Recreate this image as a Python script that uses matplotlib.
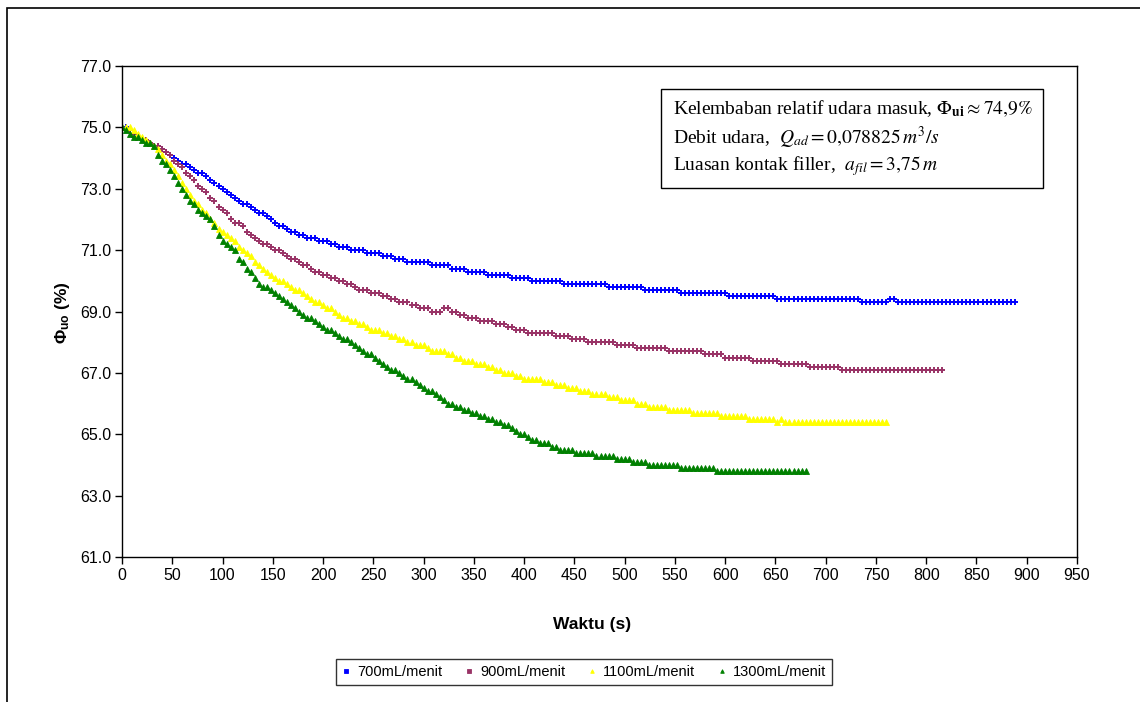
import numpy as np
import matplotlib
matplotlib.use("Agg")
import matplotlib.pyplot as plt
from matplotlib.patches import Rectangle
from matplotlib.lines import Line2D

plt.rcParams['font.family'] = ['Liberation Sans', 'DejaVu Sans']
plt.rcParams['mathtext.fontset'] = 'custom'
plt.rcParams['mathtext.rm'] = 'Liberation Sans'
plt.rcParams['mathtext.bf'] = 'Liberation Sans:bold'
plt.rcParams['mathtext.it'] = 'Liberation Sans:italic'

# ---------------- data (sampled every 4 s; levels with run lengths) ----------------
sample_step = 4  # s

s700_levels = [75.0, 74.9, 74.7, 74.6, 74.5, 74.4, 74.3, 74.2, 74.1, 74.0, 73.9, 73.8, 73.7, 73.6,
               73.5, 73.4, 73.3, 73.2, 73.1, 73.0, 72.9, 72.8, 72.7, 72.6, 72.5, 72.4, 72.3, 72.2,
               72.1, 72.0, 71.9, 71.8, 71.7, 71.6, 71.5, 71.4, 71.3, 71.2, 71.1, 71.0, 70.9, 70.8,
               70.7, 70.6, 70.5, 70.4, 70.3, 70.2, 70.1, 70.0, 69.9, 69.8, 69.7, 69.6, 69.5, 69.4,
               69.3, 69.4, 69.3]
s700_counts = [2, 1, 2, 2, 1, 2, 1, 1, 1, 1, 1, 2, 1, 1,
               2, 1, 1, 1, 1, 1, 1, 1, 1, 1, 2, 1, 1, 2,
               1, 1, 1, 2, 1, 2, 2, 3, 3, 2, 3, 4, 4, 3,
               3, 6, 5, 4, 5, 6, 5, 8, 11, 9, 9, 12, 12, 21,
               7, 2, 30]

s900_levels = [74.9, 74.8, 74.7, 74.6, 74.5, 74.4, 74.3, 74.2, 74.1, 73.9, 73.8, 73.7, 73.5, 73.4,
               73.3, 73.1, 73.0, 72.9, 72.7, 72.6, 72.4, 72.3, 72.2, 72.0, 71.9, 71.8, 71.6, 71.5,
               71.4, 71.3, 71.2, 71.1, 71.0, 70.9, 70.8, 70.7, 70.6, 70.5, 70.4, 70.3, 70.2, 70.1,
               70.0, 69.9, 69.8, 69.7, 69.6, 69.5, 69.4, 69.3, 69.2, 69.1, 69.0, 69.1, 69.0, 68.9,
               68.8, 68.7, 68.6, 68.5, 68.4, 68.3, 68.2, 68.1, 68.0, 67.9, 67.8, 67.7, 67.6, 67.5,
               67.4, 67.3, 67.2, 67.1]
s900_counts = [3, 1, 1, 2, 1, 2, 1, 1, 1, 1, 1, 1, 1, 1,
               1, 1, 1, 1, 1, 1, 1, 1, 1, 1, 2, 1, 1, 1,
               1, 1, 2, 1, 2, 1, 1, 2, 1, 2, 1, 2, 2, 2,
               2, 2, 1, 3, 3, 2, 2, 3, 2, 3, 3, 2, 2, 2,
               3, 4, 3, 2, 3, 7, 4, 4, 7, 5, 8, 9, 5, 7,
               7, 7, 8, 26]

s1100_levels = [75.0, 74.9, 74.8, 74.7, 74.6, 74.5, 74.4, 74.3, 74.1, 73.9, 73.8, 73.6, 73.4, 73.2,
                73.0, 72.8, 72.6, 72.5, 72.3, 72.2, 72.0, 71.9, 71.7, 71.6, 71.5, 71.4, 71.3, 71.1,
                71.0, 70.9, 70.8, 70.6, 70.5, 70.4, 70.3, 70.2, 70.1, 70.0, 69.9, 69.8, 69.7, 69.6,
                69.5, 69.4, 69.3, 69.2, 69.1, 69.0, 68.9, 68.8, 68.7, 68.6, 68.5, 68.4, 68.3, 68.2,
                68.1, 68.0, 67.9, 67.8, 67.7, 67.6, 67.5, 67.4, 67.3, 67.2, 67.1, 67.0, 66.9, 66.8,
                66.7, 66.6, 66.5, 66.4, 66.3, 66.2, 66.1, 66.0, 65.9, 65.8, 65.7, 65.6, 65.5, 65.4,
                65.5, 65.4]
s1100_counts = [3, 1, 1, 1, 1, 1, 1, 1, 1, 1, 1, 1, 1, 1,
                1, 1, 1, 1, 1, 1, 1, 1, 1, 1, 1, 1, 1, 1,
                1, 1, 1, 1, 1, 1, 1, 1, 1, 2, 1, 1, 2, 1,
                1, 1, 2, 1, 2, 1, 1, 2, 2, 2, 1, 3, 2, 2,
                2, 2, 3, 1, 4, 2, 2, 3, 3, 2, 2, 3, 2, 5,
                3, 3, 3, 3, 4, 3, 4, 3, 5, 6, 7, 7, 7, 1,
                1, 26]

s1300_levels = [75.0, 74.9, 74.8, 74.7, 74.6, 74.5, 74.4, 74.1, 73.9, 73.8, 73.6, 73.4, 73.2, 73.0,
                72.8, 72.6, 72.5, 72.3, 72.2, 72.1, 72.0, 71.8, 71.5, 71.3, 71.2, 71.1, 71.0, 70.7,
                70.6, 70.4, 70.3, 70.1, 69.9, 69.8, 69.7, 69.6, 69.5, 69.4, 69.3, 69.2, 69.1, 69.0,
                68.9, 68.8, 68.7, 68.6, 68.5, 68.4, 68.3, 68.2, 68.1, 68.0, 67.9, 67.8, 67.7, 67.6,
                67.5, 67.4, 67.3, 67.2, 67.1, 67.0, 66.9, 66.8, 66.7, 66.6, 66.5, 66.4, 66.3, 66.2,
                66.1, 66.0, 65.9, 65.8, 65.7, 65.6, 65.5, 65.4, 65.3, 65.2, 65.1, 65.0, 64.9, 64.8,
                64.7, 64.6, 64.5, 64.4, 64.3, 64.2, 64.1, 64.0, 63.9, 63.8]
s1300_counts = [1, 1, 1, 2, 1, 2, 1, 1, 1, 1, 1, 1, 1, 1,
                1, 1, 1, 1, 1, 1, 1, 1, 1, 1, 1, 1, 1, 1,
                1, 1, 1, 1, 1, 2, 1, 1, 1, 1, 1, 1, 1, 1,
                1, 2, 1, 1, 1, 2, 1, 1, 2, 1, 1, 1, 1, 2,
                1, 1, 1, 1, 2, 1, 1, 2, 1, 1, 1, 2, 1, 1,
                1, 2, 2, 2, 2, 2, 2, 2, 2, 1, 1, 2, 1, 2,
                3, 2, 4, 5, 5, 4, 4, 8, 9, 23]

series_labels = ['700mL/menit', '900mL/menit', '1100mL/menit', '1300mL/menit']
series_colors = ['#0000FF', '#993366', '#FFFF00', '#008000']
series_markers = ['+', '+', '^', '^']
legend_markers = ['s', 's', '^', '^']

x_ticks = list(range(0, 951, 50))
y_ticks = [61.0, 63.0, 65.0, 67.0, 69.0, 71.0, 73.0, 75.0, 77.0]

# ---------------- figure ----------------
W, H = 1140, 702
fig = plt.figure(figsize=(W / 100, H / 100), dpi=100)
fig.patch.set_facecolor('white')

def fx(px):
    return px / W

def fy(py):
    return 1 - py / H

# outer chart border
fig.patches.append(Rectangle((fx(7), fy(760)), fx(1200), fy(8) - fy(760),
                             transform=fig.transFigure, fill=False,
                             edgecolor='black', linewidth=1.2, clip_on=False))

ax = fig.add_axes([fx(122), fy(557), fx(1077) - fx(122), fy(66) - fy(557)])

all_series = [(s700_levels, s700_counts), (s900_levels, s900_counts),
              (s1100_levels, s1100_counts), (s1300_levels, s1300_counts)]

for (lv, ct), lab, col, mk in zip(all_series, series_labels, series_colors, series_markers):
    vals = np.repeat(lv, ct)
    t = np.arange(len(vals)) * sample_step
    if mk == '+':
        ax.plot(t, vals, linestyle='none', marker=mk, markersize=4.5, markeredgewidth=1.4,
                color=col, label=lab)
    else:
        ax.plot(t, vals, linestyle='none', marker=mk, markersize=3.8, markeredgewidth=0.6,
                color=col, markeredgecolor=col, label=lab)

ax.set_xlim(0, 950)
ax.set_ylim(61, 77)
ax.set_xticks(x_ticks)
ax.set_yticks(y_ticks)
ax.set_yticklabels([f'{v:.1f}' for v in y_ticks])
ax.tick_params(axis='both', direction='out', length=5, width=1, labelsize=11.5,
               colors='black', pad=3)
for s in ax.spines.values():
    s.set_color('black')
    s.set_linewidth(1)

fig.text(fx(592), fy(625), 'Waktu (s)', ha='center', va='center', fontsize=12.5,
         fontweight='bold')
fig.text(fx(62), fy(313), r'$\mathbf{\Phi_{uo}}$ (%)', ha='center', va='center',
         fontsize=12.5, fontweight='bold', rotation=90)

# annotation box
fig.patches.append(Rectangle((fx(661), fy(188)), fx(1043) - fx(661), fy(89) - fy(188),
                             transform=fig.transFigure, fill=False,
                             edgecolor='black', linewidth=1, clip_on=False))
box_lines = [
    r'Kelembaban relatif udara masuk, $\Phi_{\mathbf{ui}}\approx 74{,}9\%$',
    r'Debit udara,  $Q_{ad} = 0{,}078825\,m^{3}/s$',
    r'Luasan kontak filler,  $a_{fil} = 3{,}75\,m$',
]
for i, line in enumerate(box_lines):
    fig.text(fx(673), fy(109 + 28.5 * i), line, ha='left', va='center', fontsize=14,
             family='Liberation Serif', math_fontfamily='stix')

# legend
handles = [Line2D([], [], linestyle='none', marker=mk, color=col, markersize=2.6,
                  markeredgewidth=0.6)
           for col, mk in zip(series_colors, legend_markers)]
leg = fig.legend(handles, series_labels, loc='center', bbox_to_anchor=(fx(584), fy(672)),
                 ncol=4, fontsize=10.5, frameon=True, fancybox=False, edgecolor='black',
                 handlelength=0.6, handletextpad=0.45, columnspacing=1.55, borderpad=0.4)
leg.get_frame().set_linewidth(1)

fig.savefig('out.png', dpi=100)
